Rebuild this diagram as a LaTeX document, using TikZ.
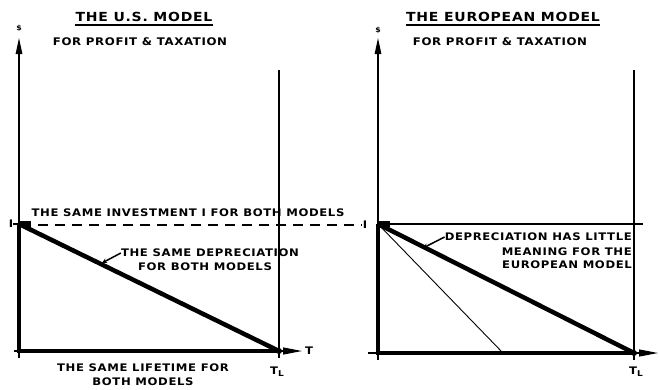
\documentclass[tikz,border=0pt]{standalone}
\usepackage{fontspec}
\setmainfont{DejaVu Sans}
\newfontfamily\widebold[FakeStretch=1.12,LetterSpace=6]{DejaVu Sans Bold}
\usetikzlibrary{arrows.meta}
\begin{document}
\begin{tikzpicture}[x=1pt,y=-1pt,
  lbl/.style={inner sep=0pt, font=\fontsize{10.4}{14}\widebold},
  ttl/.style={inner sep=0pt, font=\fontsize{12.5}{16}\widebold},
  sub/.style={inner sep=0pt, font=\fontsize{10.5}{12}\widebold},
  small/.style={inner sep=0pt, font=\fontsize{7}{8}\widebold},
  heavy/.style={line width=4.5pt, line cap=butt},
  light/.style={line width=1.2pt},
  hair/.style={line width=0.9pt},
  yarrow/.style={-{Triangle[length=16pt,width=6.5pt]}},
  xarrow/.style={-{Triangle[length=19pt,width=7pt]}},
  callout/.style={line width=1.5pt,-{Stealth[length=5pt,width=5pt]}},
  dashline/.style={line width=1.4pt, dash pattern=on 10pt off 7pt}
]
\useasboundingbox (0,0) rectangle (660,389);
% ---------- left panel ----------
\coordinate (O1) at (19,351);
\coordinate (I1) at (19,224);
\coordinate (T1) at (279,351);
\coordinate (Ytop1) at (19,38);
\coordinate (Ybot1) at (19,358);
\coordinate (Xstart1) at (14,351);
\coordinate (Xend1) at (302,351);
\coordinate (V1top) at (279,70);
\coordinate (V1bot) at (279,358);
\coordinate (B1) at (31,224);
\coordinate (D1start) at (38,225);
\coordinate (D1end) at (362,225);
\coordinate (A1tip) at (102,263);

\draw[light, yarrow] (Ybot1) -- (Ytop1);
\draw[light, xarrow] (Xstart1) -- (Xend1);
\draw[light] (V1top) -- (V1bot);
\draw[dashline] (D1start) -- (D1end);
\draw[heavy] (I1) -- (O1) -- (T1);
\draw[heavy] (I1) -- (T1);
\draw[line width=6pt] (I1) -- (B1);
\fill (T1) circle (3pt);

\node[small] (dol1) at (19,28) {\$};
\node[lbl] (Ilab1) at (11,224) {I};
\draw[light] (Ilab1.east) -- (I1);
\node[ttl] (title1) at (144,17) {THE U.S. MODEL};
\draw[line width=1.5pt] ([yshift=-3pt]title1.south west) -- ([yshift=-3pt]title1.south east);
\node[sub] (sub1) at (140,42) {FOR PROFIT \& TAXATION};
\node[lbl] (inv) at (188,213) {THE SAME INVESTMENT I FOR BOTH MODELS};
\node[lbl] (dep1a) at (210,253) {THE SAME DEPRECIATION};
\node[lbl] (dep1b) at (205,267) {FOR BOTH MODELS};
\draw[callout] (dep1a.west) -- (A1tip);
\node[lbl] (life1a) at (143,368) {THE SAME LIFETIME FOR};
\node[lbl] (life1b) at (143,382) {BOTH MODELS};
\node[lbl] (Tax1) at (309,351) {T};
\node[lbl] (TL1) at (277,372) {T\raisebox{-2pt}{\fontsize{8}{9}\widebold L}};

% ---------- right panel ----------
\coordinate (O2) at (378,353);
\coordinate (I2) at (378,224);
\coordinate (T2) at (634,353);
\coordinate (M2) at (503,353);
\coordinate (Ytop2) at (378,38);
\coordinate (Ybot2) at (378,360);
\coordinate (Xstart2) at (368,353);
\coordinate (Xend2) at (658,353);
\coordinate (V2top) at (634,70);
\coordinate (V2bot) at (634,360);
\coordinate (H2end) at (643,224);
\coordinate (B2) at (390,224);
\coordinate (A2tip) at (423,248);

\draw[light, yarrow] (Ybot2) -- (Ytop2);
\draw[light, xarrow] (Xstart2) -- (Xend2);
\draw[light] (V2top) -- (V2bot);
\draw[light] (I2) -- (H2end);
\draw[hair] (I2) -- (M2);
\draw[heavy] (I2) -- (O2) -- (T2);
\draw[heavy] (I2) -- (T2);
\draw[line width=6pt] (I2) -- (B2);
\fill (T2) circle (3pt);

\node[small] (dol2) at (378,30) {\$};
\node[lbl] (Ilab2) at (365,225) {I};
\node[ttl] (title2) at (503,17) {THE EUROPEAN MODEL};
\draw[line width=1.5pt] ([yshift=-3pt]title2.south west) -- ([yshift=-3pt]title2.south east);
\node[sub] (sub2) at (500,42) {FOR PROFIT \& TAXATION};
\node[lbl, anchor=east] (dep2a) at (632,237) {DEPRECIATION HAS LITTLE};
\node[lbl, anchor=east] (dep2b) at (632,252) {MEANING FOR THE};
\node[lbl, anchor=east] (dep2c) at (632,265) {EUROPEAN MODEL};
\draw[callout] (dep2a.west) -- (A2tip);
\node[lbl] (TL2) at (636,372) {T\raisebox{-2pt}{\fontsize{8}{9}\widebold L}};
\end{tikzpicture}
\end{document}
